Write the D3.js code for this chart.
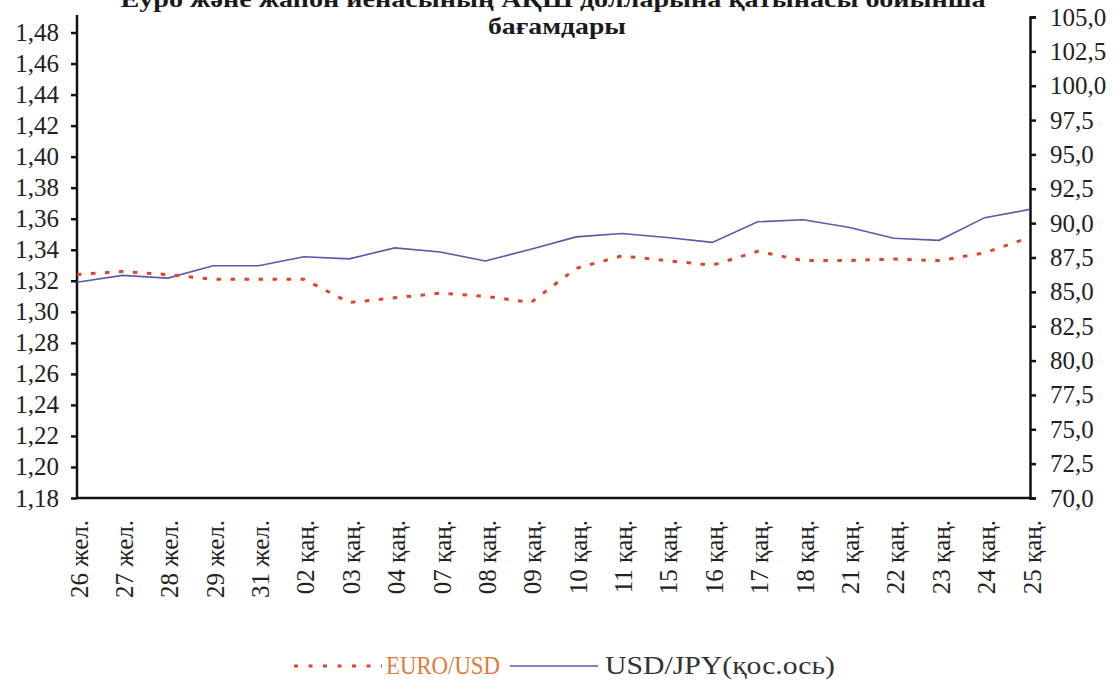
<!DOCTYPE html>
<html>
<head>
<meta charset="utf-8">
<script src="https://cdn.jsdelivr.net/npm/d3@7"></script>
<style>
  body { margin: 0; background: #fff; }
  svg text { font-family: 'Liberation Serif', 'DejaVu Serif', serif; }
</style>
</head>
<body>
<div id="graf"></div>
<script>
// data
const dates = ['26 жел.', '27 жел.', '28 жел.', '29 жел.', '31 жел.',
  '02 қаң.', '03 қаң.', '04 қаң.', '07 қаң.', '08 қаң.', '09 қаң.',
  '10 қаң.', '11 қаң.', '15 қаң.', '16 қаң.', '17 қаң.', '18 қаң.',
  '21 қаң.', '22 қаң.', '23 қаң.', '24 қаң.', '25 қаң.']
const euroUsd = [1.324, 1.326, 1.324, 1.321, 1.321, 1.321, 1.306, 1.309,
  1.312, 1.310, 1.306, 1.328, 1.336, 1.333, 1.330, 1.339, 1.333,
  1.333, 1.334, 1.333, 1.338, 1.348]
const usdJpy = [85.7, 86.2, 86.0, 86.9, 86.9, 87.55, 87.4, 88.2, 87.9,
  87.25, 88.1, 89.0, 89.25, 88.95, 88.6, 90.1, 90.25, 89.7, 88.9,
  88.75, 90.4, 91.0]
const leftTicks = d3.range(0, 16).map(i => +(1.18 + i * 0.02).toFixed(2))
const rightTicks = d3.range(0, 15).map(i => 70 + i * 2.5)

const W = 1115, H = 684
const svg = d3.select('#graf').append('svg')
  .attr('width', W).attr('height', H)

const pLeft = 77, pRight = 1030, pTop = 17, pBottom = 498

const x = d3.scalePoint().domain(dates).range([pLeft, pRight])
const yL = d3.scaleLinear().domain([1.18, 1.49]).range([pBottom, pTop])
const yR = d3.scaleLinear().domain([70, 105]).range([pBottom, pTop])

const comma = f => d => d3.format(f)(d).replace('.', ',')

// title (first line is cut by the top edge, as in the source)
svg.append('text')
  .attr('x', 553).attr('y', 7)
  .attr('text-anchor', 'middle')
  .attr('font-weight', 'bold').attr('font-size', 24)
  .attr('fill', '#1a1a1a')
  .attr('textLength', 865).attr('lengthAdjust', 'spacingAndGlyphs')
  .text('Еуро және жапон иенасының АҚШ долларына қатынасы бойынша')
svg.append('text')
  .attr('x', 557).attr('y', 34)
  .attr('text-anchor', 'middle')
  .attr('font-weight', 'bold').attr('font-size', 24)
  .attr('fill', '#1a1a1a')
  .attr('textLength', 138).attr('lengthAdjust', 'spacingAndGlyphs')
  .text('бағамдары')

// axes
const gL = svg.append('g')
  .attr('transform', `translate(${pLeft},0)`)
  .call(d3.axisLeft(yL).tickValues(leftTicks).tickSize(6).tickPadding(12)
    .tickFormat(comma('.2f')))
gL.select('.domain').attr('d', `M0,15V${pBottom}`)

const gR = svg.append('g')
  .attr('transform', `translate(${pRight},0)`)
  .call(d3.axisRight(yR).tickValues(rightTicks).tickSize(6).tickPadding(14)
    .tickFormat(comma('.1f')))

svg.selectAll('.domain, .tick line')
  .attr('stroke', '#111').attr('stroke-width', 2.5)
svg.selectAll('.tick text')
  .attr('font-size', 25).attr('fill', '#222')
  .attr('font-family', "'Liberation Serif', serif")

svg.append('line')
  .attr('x1', pLeft - 1).attr('x2', pRight + 1)
  .attr('y1', pBottom).attr('y2', pBottom)
  .attr('stroke', '#111').attr('stroke-width', 2.5)

// category labels
svg.append('g').selectAll('text')
  .data(dates).join('text')
  .attr('transform', d => `translate(${x(d) + 2},520) rotate(-90)`)
  .attr('text-anchor', 'end')
  .attr('dominant-baseline', 'central')
  .attr('font-size', 25).attr('fill', '#222')
  .text(d => d)

// lines
const lineL = d3.line().x((d, i) => x(dates[i])).y(d => yL(d))
const lineR = d3.line().x((d, i) => x(dates[i])).y(d => yR(d))

svg.append('path')
  .datum(usdJpy)
  .attr('d', lineR)
  .attr('fill', 'none')
  .attr('stroke', '#5a5aaa')
  .attr('stroke-width', 1.6)

svg.append('path')
  .datum(euroUsd)
  .attr('d', lineL)
  .attr('fill', 'none')
  .attr('stroke', '#e6402a')
  .attr('stroke-width', 3)
  .attr('stroke-dasharray', '4.5,9.5')

// legend
const ly = 666
svg.append('line')
  .attr('x1', 294).attr('x2', 382).attr('y1', ly).attr('y2', ly)
  .attr('stroke', '#e6402a').attr('stroke-width', 3)
  .attr('stroke-dasharray', '4,10.5')
svg.append('text')
  .attr('x', 386).attr('y', ly + 8)
  .attr('font-size', 25).attr('fill', '#e07a3c')
  .attr('textLength', 114).attr('lengthAdjust', 'spacingAndGlyphs')
  .text('EURO/USD')
svg.append('line')
  .attr('x1', 510).attr('x2', 598).attr('y1', ly).attr('y2', ly)
  .attr('stroke', '#5a5aaa').attr('stroke-width', 1.6)
svg.append('text')
  .attr('x', 605).attr('y', ly + 8)
  .attr('font-size', 25).attr('fill', '#333')
  .attr('textLength', 230).attr('lengthAdjust', 'spacingAndGlyphs')
  .text('USD/JPY(қос.ось)')
</script>
</body>
</html>
